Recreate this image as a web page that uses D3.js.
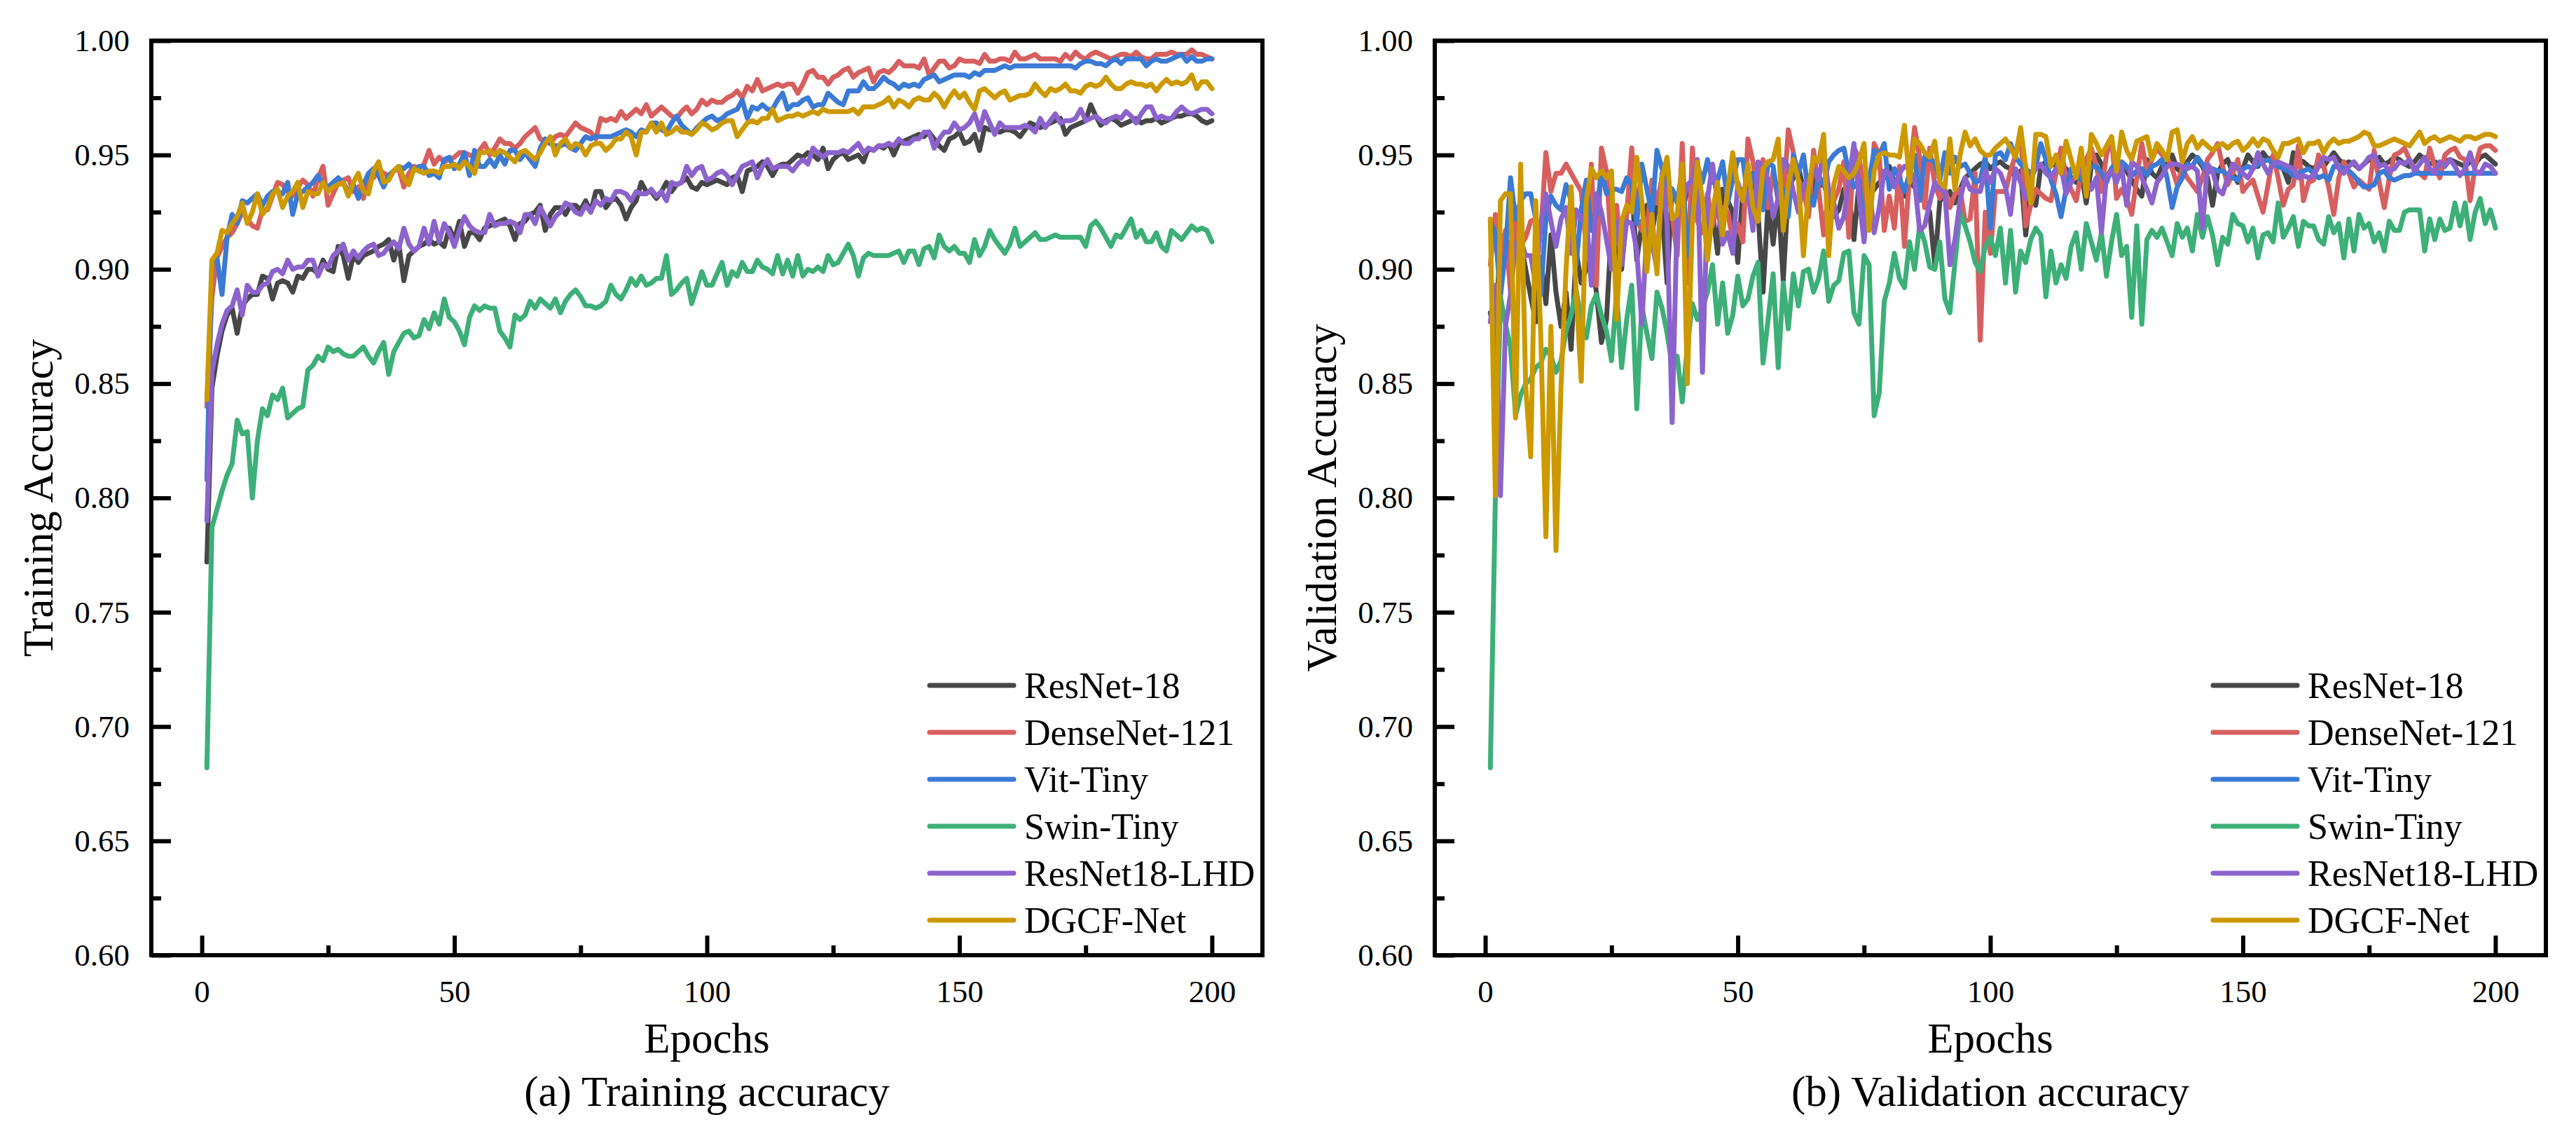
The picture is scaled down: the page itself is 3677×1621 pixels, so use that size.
<!DOCTYPE html>
<html>
<head>
<meta charset="utf-8">
<script src="https://cdn.jsdelivr.net/npm/d3@7"></script>
<style>
  html, body { margin: 0; padding: 0; background: #fff; }
  svg { display: block; }
  text { font-family: "Liberation Serif", "Times New Roman", serif; fill: #000; }
</style>
</head>
<body>
<svg id="chart"></svg>
<script>
// epochs 1..200
const epochs = d3.range(1, 201);

const seriesNames = ['ResNet-18', 'DenseNet-121', 'Vit-Tiny', 'Swin-Tiny', 'ResNet18-LHD', 'DGCF-Net'];
const seriesColors = ['#474747', '#d75f5f', '#3b7ad5', '#3daf78', '#8c63cd', '#cc9900'];

const xTicks = [0, 50, 100, 150, 200];
const xMinorTicks = [25, 75, 125, 175];
const yTicks = [0.60, 0.65, 0.70, 0.75, 0.80, 0.85, 0.90, 0.95, 1.00];
const yMinorTicks = [0.625, 0.675, 0.725, 0.775, 0.825, 0.875, 0.925, 0.975];

// ---- training accuracy ----
const trainResNet18 = [
.772,.848,.862,.873,.880,.883,.872,.884,.887,.889,
.889,.897,.896,.887,.894,.895,.894,.890,.897,.896,
.900,.900,.898,.904,.900,.899,.910,.906,.896,.906,
.903,.906,.907,.908,.910,.911,.913,.904,.911,.895,
.906,.908,.910,.911,.913,.911,.912,.910,.918,.913,
.921,.910,.916,.916,.913,.918,.919,.920,.921,.922,
.919,.913,.920,.921,.924,.925,.928,.917,.924,.927,
.927,.924,.928,.928,.926,.930,.925,.934,.934,.927,
.930,.931,.928,.922,.927,.930,.938,.934,.934,.931,
.934,.938,.934,.937,.938,.940,.936,.935,.938,.937,
.938,.939,.938,.937,.940,.941,.934,.943,.944,.945,
.947,.945,.941,.945,.946,.946,.948,.950,.949,.951,
.950,.948,.953,.944,.948,.950,.951,.948,.949,.950,
.947,.953,.952,.954,.953,.955,.950,.955,.956,.957,
.958,.959,.958,.960,.957,.954,.952,.957,.958,.960,
.955,.956,.959,.952,.962,.961,.961,.960,.961,.961,
.960,.958,.961,.964,.963,.962,.963,.964,.965,.966,
.959,.962,.963,.964,.965,.972,.967,.963,.965,.966,
.965,.963,.964,.965,.966,.964,.965,.965,.966,.964,
.965,.966,.967,.967,.968,.968,.967,.965,.964,.965];

const trainDenseNet121 = [
.840,.888,.905,.910,.914,.916,.920,.925,.922,.919,
.918,.926,.926,.932,.938,.937,.934,.932,.936,.939,
.937,.932,.940,.945,.928,.933,.938,.939,.940,.934,
.936,.931,.941,.940,.944,.942,.941,.943,.944,.936,
.942,.945,.944,.946,.952,.946,.949,.947,.948,.949,
.951,.951,.950,.949,.952,.955,.950,.953,.957,.955,
.955,.953,.955,.958,.960,.962,.957,.956,.955,.958,
.959,.958,.961,.964,.962,.961,.960,.957,.966,.965,
.966,.965,.969,.966,.968,.970,.968,.972,.967,.969,
.971,.969,.967,.966,.969,.971,.968,.970,.974,.972,
.974,.973,.973,.975,.976,.978,.975,.980,.978,.983,
.978,.979,.980,.981,.980,.981,.981,.977,.981,.986,
.987,.984,.984,.981,.984,.985,.987,.988,.984,.986,
.987,.988,.982,.986,.987,.986,.988,.991,.989,.989,
.989,.988,.992,.985,.988,.991,.991,.988,.989,.992,
.991,.991,.991,.990,.994,.991,.991,.992,.992,.991,
.995,.992,.992,.993,.994,.992,.992,.992,.992,.991,
.994,.992,.995,.993,.992,.994,.995,.994,.993,.992,
.993,.994,.994,.993,.995,.993,.992,.992,.994,.994,
.994,.995,.994,.994,.994,.996,.994,.994,.993,.992];

const trainVitTiny = [
.808,.903,.905,.889,.914,.924,.920,.930,.929,.931,
.933,.928,.932,.934,.934,.933,.938,.924,.933,.934,
.936,.938,.941,.937,.936,.938,.940,.938,.934,.937,
.931,.937,.942,.944,.941,.936,.941,.943,.945,.944,
.946,.943,.945,.945,.941,.942,.940,.948,.949,.944,
.946,.951,.941,.952,.945,.945,.948,.945,.950,.946,
.952,.952,.948,.951,.948,.945,.953,.957,.955,.954,
.954,.955,.953,.952,.955,.958,.957,.958,.958,.958,
.958,.959,.960,.961,.960,.958,.961,.960,.964,.964,
.961,.960,.964,.967,.963,.961,.959,.962,.964,.966,
.967,.965,.966,.968,.969,.970,.974,.966,.971,.970,
.972,.970,.970,.974,.977,.970,.972,.972,.974,.975,
.971,.972,.972,.977,.975,.973,.972,.978,.978,.978,
.982,.979,.979,.981,.984,.982,.981,.979,.981,.980,
.981,.980,.983,.984,.985,.982,.983,.984,.985,.985,
.985,.984,.986,.985,.987,.987,.987,.988,.989,.988,
.989,.989,.989,.989,.989,.989,.989,.989,.989,.989,
.989,.989,.988,.990,.991,.991,.990,.990,.989,.991,
.992,.990,.992,.992,.992,.992,.989,.991,.992,.991,
.991,.992,.993,.994,.991,.993,.991,.991,.992,.992];

const trainSwinTiny = [
.682,.787,.795,.803,.810,.815,.834,.828,.829,.800,
.825,.839,.836,.845,.843,.848,.835,.837,.839,.840,
.856,.858,.862,.860,.866,.864,.865,.863,.862,.862,
.864,.866,.862,.859,.864,.868,.854,.864,.868,.872,
.873,.870,.871,.878,.874,.881,.876,.887,.879,.877,
.873,.867,.879,.884,.882,.884,.883,.883,.873,.870,
.866,.880,.878,.880,.886,.883,.887,.885,.883,.887,
.881,.886,.889,.891,.888,.884,.884,.883,.884,.886,
.893,.889,.887,.891,.896,.893,.897,.893,.894,.896,
.896,.906,.889,.891,.894,.896,.885,.892,.899,.893,
.893,.898,.903,.893,.899,.897,.903,.899,.899,.904,
.901,.900,.898,.906,.898,.904,.897,.906,.897,.900,
.899,.901,.899,.906,.902,.903,.907,.911,.906,.897,
.905,.907,.906,.906,.906,.906,.907,.908,.903,.908,
.908,.902,.909,.910,.905,.915,.910,.908,.910,.907,
.907,.903,.913,.906,.910,.917,.913,.910,.907,.911,
.918,.910,.912,.914,.916,.913,.913,.914,.915,.914,
.914,.914,.914,.914,.910,.919,.921,.918,.914,.910,
.915,.914,.918,.922,.914,.917,.912,.912,.916,.910,
.908,.917,.915,.913,.916,.919,.917,.918,.917,.912];

const trainResNet18LHD = [
.790,.855,.867,.876,.882,.884,.891,.880,.893,.890,
.890,.893,.894,.899,.900,.898,.904,.900,.901,.901,
.904,.904,.897,.902,.901,.906,.908,.911,.904,.908,
.905,.908,.910,.911,.906,.907,.910,.912,.909,.918,
.911,.908,.910,.918,.911,.921,.912,.920,.916,.910,
.917,.923,.919,.917,.916,.916,.924,.919,.920,.920,
.921,.920,.916,.924,.924,.920,.927,.923,.919,.923,
.925,.929,.928,.925,.924,.928,.925,.930,.928,.931,
.930,.934,.934,.933,.930,.934,.933,.933,.935,.932,
.934,.930,.938,.937,.938,.945,.941,.944,.945,.939,
.940,.942,.943,.941,.937,.941,.945,.946,.947,.940,
.945,.948,.944,.945,.945,.945,.943,.946,.948,.946,
.953,.951,.949,.951,.951,.951,.952,.951,.953,.955,
.951,.953,.952,.954,.954,.955,.954,.957,.955,.955,
.957,.957,.960,.960,.953,.957,.960,.960,.964,.961,
.962,.964,.968,.961,.969,.964,.959,.964,.962,.962,
.962,.962,.963,.962,.960,.966,.962,.965,.968,.964,
.965,.965,.966,.970,.965,.966,.967,.965,.964,.966,
.967,.966,.969,.967,.964,.968,.971,.971,.966,.967,
.966,.966,.969,.971,.969,.968,.969,.970,.970,.968];

const trainDGCFNet = [
.843,.904,.907,.917,.916,.920,.923,.929,.920,.925,
.933,.924,.927,.933,.935,.927,.932,.934,.938,.927,
.934,.933,.933,.938,.934,.936,.937,.938,.932,.938,
.942,.934,.933,.943,.947,.938,.939,.943,.945,.940,
.937,.944,.943,.942,.943,.943,.942,.945,.945,.946,
.944,.947,.945,.942,.951,.951,.952,.950,.952,.951,
.949,.947,.951,.952,.950,.948,.951,.955,.958,.950,
.955,.957,.953,.955,.954,.950,.954,.955,.955,.952,
.954,.957,.957,.960,.958,.950,.960,.960,.964,.960,
.964,.959,.960,.962,.960,.960,.959,.961,.964,.963,
.961,.962,.964,.965,.965,.958,.961,.964,.965,.964,
.966,.966,.970,.965,.966,.967,.967,.968,.967,.968,
.969,.968,.970,.969,.969,.969,.969,.969,.970,.968,
.971,.971,.971,.972,.973,.975,.971,.974,.973,.971,
.974,.975,.974,.974,.977,.975,.971,.975,.978,.975,
.977,.973,.970,.978,.979,.977,.975,.977,.978,.974,
.975,.976,.976,.977,.981,.978,.976,.979,.978,.979,
.981,.978,.978,.977,.980,.981,.980,.981,.984,.981,
.979,.979,.981,.982,.981,.981,.980,.981,.978,.981,
.983,.981,.982,.981,.982,.985,.979,.982,.982,.979];

// ---- validation accuracy ----
const valResNet18 = [
.881,.870,.915,.905,.912,.910,.912,.900,.888,.877,
.905,.885,.915,.890,.875,.890,.865,.908,.894,.900,
.906,.890,.868,.878,.919,.910,.900,.925,.935,.904,
.920,.928,.915,.930,.925,.894,.935,.930,.925,.935,
.938,.932,.930,.920,.925,.907,.935,.930,.925,.903,
.935,.930,.938,.925,.890,.930,.911,.932,.895,.935,
.940,.945,.935,.925,.940,.936,.938,.930,.923,.926,
.935,.933,.913,.938,.930,.932,.935,.938,.940,.945,
.938,.936,.932,.938,.936,.939,.930,.925,.902,.930,
.932,.934,.929,.935,.940,.942,.944,.946,.947,.944,
.946,.947,.945,.944,.940,.943,.915,.935,.928,.945,
.947,.948,.945,.942,.944,.940,.938,.942,.929,.945,
.950,.946,.940,.944,.947,.945,.943,.939,.935,.932,
.948,.942,.940,.945,.946,.950,.944,.942,.947,.950,
.948,.945,.940,.928,.942,.946,.948,.942,.938,.944,
.950,.947,.945,.951,.948,.949,.946,.944,.938,.951,
.948,.947,.945,.944,.946,.945,.948,.951,.948,.946,
.947,.946,.944,.946,.948,.947,.949,.946,.947,.949,
.948,.946,.945,.947,.950,.948,.946,.947,.946,.947,
.948,.947,.946,.945,.947,.946,.949,.950,.948,.946];

const valDenseNet121 = [
.902,.924,.905,.917,.890,.921,.910,.914,.921,.922,
.916,.951,.934,.942,.942,.946,.942,.938,.934,.909,
.946,.893,.953,.943,.908,.928,.906,.924,.953,.922,
.917,.917,.939,.929,.940,.933,.924,.906,.955,.894,
.953,.921,.916,.933,.919,.928,.927,.925,.913,.920,
.912,.957,.947,.931,.948,.927,.943,.930,.929,.961,
.951,.939,.935,.923,.952,.935,.915,.935,.930,.935,
.947,.914,.953,.949,.934,.918,.955,.950,.917,.932,
.918,.945,.910,.941,.962,.949,.927,.953,.937,.931,
.935,.927,.933,.935,.921,.922,.942,.869,.925,.907,
.934,.934,.934,.943,.950,.961,.919,.928,.935,.933,
.931,.930,.942,.953,.940,.935,.930,.942,.948,.953,
.945,.934,.950,.958,.931,.935,.931,.924,.940,.955,
.943,.948,.953,.950,.949,.944,.937,.944,.940,.937,
.934,.940,.948,.951,.955,.945,.937,.942,.948,.934,
.937,.939,.932,.925,.937,.950,.940,.928,.935,.937,
.954,.930,.938,.939,.950,.945,.936,.924,.940,.947,
.942,.936,.939,.937,.935,.952,.938,.927,.940,.950,
.951,.953,.948,.944,.942,.940,.953,.945,.940,.950,
.952,.953,.949,.948,.930,.945,.953,.954,.954,.952];

const valVitTiny = [
.921,.916,.888,.908,.940,.922,.930,.933,.933,.922,
.889,.922,.932,.928,.926,.937,.930,.902,.926,.939,
.917,.924,.943,.933,.935,.935,.934,.940,.937,.920,
.946,.935,.924,.952,.944,.937,.935,.929,.944,.906,
.925,.946,.938,.948,.938,.939,.947,.929,.939,.948,
.948,.931,.942,.934,.926,.947,.945,.930,.935,.923,
.950,.942,.950,.933,.928,.941,.937,.947,.950,.952,
.953,.942,.936,.939,.915,.939,.952,.950,.955,.935,
.944,.940,.934,.942,.950,.930,.949,.948,.947,.939,
.951,.942,.949,.945,.946,.942,.938,.939,.949,.918,
.950,.951,.948,.955,.949,.946,.944,.942,.945,.955,
.948,.939,.933,.923,.935,.944,.942,.939,.941,.945,
.945,.942,.938,.944,.946,.947,.945,.941,.943,.944,
.941,.945,.946,.948,.940,.927,.936,.940,.946,.945,
.949,.946,.942,.944,.943,.943,.941,.940,.939,.944,
.945,.944,.946,.947,.948,.946,.945,.944,.943,.941,
.942,.943,.944,.942,.940,.941,.939,.945,.945,.944,
.943,.941,.938,.936,.936,.937,.942,.943,.940,.939,
.940,.941,.941,.942,.942,.942,.942,.942,.942,.942,
.942,.942,.942,.942,.942,.942,.942,.942,.942,.942];

const valSwinTiny = [
.682,.800,.888,.876,.866,.836,.845,.850,.852,.857,
.859,.865,.862,.855,.860,.873,.880,.891,.877,.870,
.884,.889,.880,.873,.860,.890,.857,.878,.893,.839,
.884,.872,.861,.890,.883,.872,.858,.862,.842,.866,
.885,.878,.883,.890,.902,.876,.894,.872,.880,.897,
.884,.887,.897,.903,.859,.878,.898,.857,.894,.874,
.898,.884,.899,.900,.890,.896,.908,.886,.893,.895,
.907,.908,.881,.876,.906,.902,.836,.846,.886,.894,
.907,.896,.892,.912,.900,.919,.912,.901,.900,.912,
.887,.881,.903,.925,.919,.912,.903,.899,.910,.914,
.906,.918,.894,.917,.890,.908,.903,.913,.918,.915,
.888,.908,.894,.902,.896,.910,.916,.900,.920,.912,
.904,.916,.897,.912,.924,.906,.910,.879,.919,.876,
.913,.917,.914,.918,.912,.906,.920,.914,.918,.908,
.924,.914,.923,.915,.902,.914,.911,.924,.920,.919,
.912,.918,.905,.915,.916,.912,.929,.914,.918,.923,
.910,.921,.919,.919,.913,.911,.923,.916,.920,.905,
.922,.908,.924,.918,.920,.912,.916,.908,.921,.917,
.917,.925,.926,.926,.926,.908,.922,.913,.922,.917,
.918,.929,.919,.929,.913,.925,.931,.920,.926,.918];

const valResNet18LHD = [
.877,.893,.801,.875,.889,.911,.913,.906,.906,.893,
.920,.933,.921,.910,.922,.927,.907,.926,.922,.924,
.893,.933,.925,.913,.900,.921,.902,.921,.920,.908,
.876,.917,.912,.900,.942,.920,.833,.924,.928,.937,
.939,.948,.855,.931,.946,.929,.911,.916,.907,.938,
.930,.934,.917,.947,.945,.939,.923,.931,.948,.945,
.934,.925,.937,.939,.944,.939,.952,.935,.929,.918,
.923,.939,.955,.932,.912,.937,.916,.927,.943,.942,
.936,.942,.945,.944,.939,.917,.919,.929,.938,.935,
.934,.902,.913,.930,.940,.935,.934,.934,.943,.938,
.944,.942,.936,.924,.944,.938,.931,.940,.944,.946,
.942,.940,.944,.945,.933,.938,.941,.944,.939,.935,
.940,.916,.941,.943,.938,.945,.928,.947,.945,.940,
.935,.929,.938,.941,.945,.946,.946,.945,.944,.945,
.943,.918,.946,.943,.935,.933,.940,.946,.944,.942,
.940,.944,.951,.946,.942,.946,.947,.946,.945,.944,
.940,.941,.940,.941,.945,.949,.948,.949,.944,.942,
.945,.947,.944,.946,.949,.950,.945,.946,.943,.944,
.947,.946,.948,.943,.946,.949,.944,.942,.947,.945,
.948,.945,.941,.944,.951,.943,.942,.946,.945,.942];

const valDGCFNet = [
.922,.801,.930,.933,.933,.835,.946,.849,.818,.930,
.870,.783,.875,.777,.849,.900,.936,.890,.851,.930,
.944,.940,.943,.940,.943,.878,.921,.928,.925,.949,
.930,.899,.924,.898,.940,.949,.922,.924,.946,.850,
.920,.947,.930,.904,.925,.938,.915,.935,.951,.936,
.930,.946,.927,.921,.944,.947,.948,.957,.917,.937,
.948,.939,.906,.935,.949,.947,.959,.906,.937,.945,
.943,.940,.942,.947,.955,.917,.943,.950,.951,.950,
.950,.949,.963,.938,.957,.955,.951,.949,.956,.938,
.936,.957,.935,.950,.960,.954,.957,.952,.950,.950,
.953,.955,.957,.953,.949,.962,.945,.929,.959,.959,
.958,.945,.950,.942,.956,.948,.940,.953,.932,.959,
.955,.950,.954,.958,.943,.960,.952,.948,.956,.957,
.958,.948,.955,.952,.948,.960,.961,.947,.955,.958,
.953,.956,.954,.952,.954,.955,.953,.955,.956,.952,
.954,.957,.954,.957,.956,.952,.949,.955,.955,.956,
.957,.951,.955,.955,.956,.951,.955,.957,.955,.956,
.956,.957,.958,.960,.959,.954,.954,.955,.956,.957,
.956,.955,.954,.957,.960,.955,.957,.958,.956,.957,
.958,.957,.956,.958,.958,.957,.958,.959,.959,.958];

const trainSeries = [trainResNet18, trainDenseNet121, trainVitTiny, trainSwinTiny, trainResNet18LHD, trainDGCFNet];
const valSeries = [valResNet18, valDenseNet121, valVitTiny, valSwinTiny, valResNet18LHD, valDGCFNet];

const W = 3677;
const H = 1621;
const plotTop = 58;
const plotBottom = 1363;
const FONT = '"Liberation Serif", "Times New Roman", serif';

const svg = d3.select('#chart')
  .attr('width', W)
  .attr('height', H)
  .attr('viewBox', `0 0 ${W} ${H}`);

const styleAxis = (g) => {
  g.select('.domain').remove();
  g.selectAll('.tick line').attr('stroke', '#000').attr('stroke-width', 6);
  g.selectAll('.tick text')
    .attr('font-family', FONT)
    .attr('font-size', 45)
    .attr('fill', '#000');
};

const buildPanel = (p) => {
  const x = d3.scaleLinear().domain([-10, 210]).range([p.left, p.right]);
  const y = d3.scaleLinear().domain([0.6, 1.0]).range([plotBottom, plotTop]);
  const g = svg.append('g').attr('class', 'panel-' + p.key);

  // axes: ticks point inward
  g.append('g')
    .attr('transform', `translate(0,${plotBottom})`)
    .call(d3.axisBottom(x).tickValues(xTicks).tickSize(-28).tickPadding(35).tickFormat(d3.format('d')))
    .call(styleAxis);
  g.append('g')
    .attr('transform', `translate(0,${plotBottom})`)
    .call(d3.axisBottom(x).tickValues(xMinorTicks).tickSize(-14).tickFormat(''))
    .call(styleAxis);
  g.append('g')
    .attr('transform', `translate(${p.left},0)`)
    .call(d3.axisLeft(y).tickValues(yTicks).tickSize(-28).tickPadding(31).tickFormat(d3.format('.2f')))
    .call(styleAxis);
  g.append('g')
    .attr('transform', `translate(${p.left},0)`)
    .call(d3.axisLeft(y).tickValues(yMinorTicks).tickSize(-14).tickFormat(''))
    .call(styleAxis);

  const line = d3.line()
    .x((d, i) => x(epochs[i]))
    .y(d => y(d));

  g.append('g')
    .selectAll('path')
    .data(p.data)
    .join('path')
    .attr('d', d => line(d))
    .attr('fill', 'none')
    .attr('stroke', (d, i) => seriesColors[i])
    .attr('stroke-width', 7)
    .attr('stroke-linejoin', 'round')
    .attr('stroke-linecap', 'round');

  // frame
  g.append('rect')
    .attr('x', p.left)
    .attr('y', plotTop)
    .attr('width', p.right - p.left)
    .attr('height', plotBottom - plotTop)
    .attr('fill', 'none')
    .attr('stroke', '#000')
    .attr('stroke-width', 6);

  // legend
  const lg = g.append('g').attr('class', 'legend');
  seriesNames.forEach((name, i) => {
    const ly = 978 + i * 67;
    lg.append('line')
      .attr('x1', p.left + 1111).attr('x2', p.left + 1231)
      .attr('y1', ly).attr('y2', ly)
      .attr('stroke', seriesColors[i])
      .attr('stroke-width', 7)
      .attr('stroke-linecap', 'round');
    lg.append('text')
      .attr('x', p.left + 1246)
      .attr('y', ly + 18)
      .attr('font-size', 52)
      .text(name);
  });

  // titles
  const cx = (p.left + p.right) / 2;
  g.append('text')
    .attr('x', cx).attr('y', 1502)
    .attr('text-anchor', 'middle')
    .attr('font-size', 61)
    .text('Epochs');
  g.append('text')
    .attr('x', cx).attr('y', 1578)
    .attr('text-anchor', 'middle')
    .attr('font-size', 61)
    .text(p.caption);
  g.append('text')
    .attr('transform', `translate(${p.left - 141},${(plotTop + plotBottom) / 2}) rotate(-90)`)
    .attr('text-anchor', 'middle')
    .attr('font-size', 61)
    .text(p.yTitle);
};

buildPanel({ key: 'a', left: 216, right: 1802, yTitle: 'Training Accuracy', caption: '(a) Training accuracy', data: trainSeries });
buildPanel({ key: 'b', left: 2048, right: 3634, yTitle: 'Validation Accuracy', caption: '(b) Validation accuracy', data: valSeries });
</script>
</body>
</html>
